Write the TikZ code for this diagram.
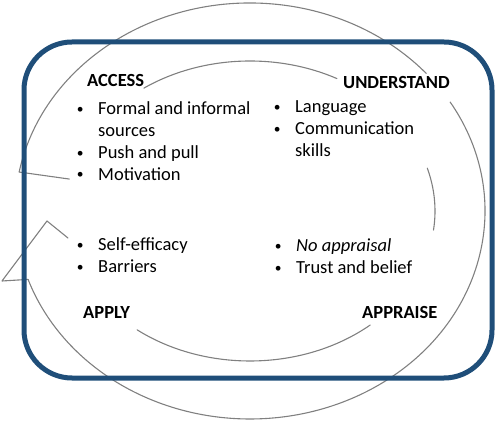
\documentclass[tikz,border=0pt]{standalone}
\usepackage{fontspec}
\setmainfont{Carlito}
\definecolor{boxblue}{HTML}{1F4E79}
\definecolor{arcgray}{HTML}{808080}
\newcommand{\bul}{\makebox[36pt]{\raisebox{1.3pt}{\fontsize{13.5}{13.5}\selectfont\textbullet}}}
\begin{document}
\begin{tikzpicture}[x=1pt, y=1pt, line join=round, line cap=round]
	\tikzset{arc/.style={arcgray, line width=1.1pt},
		outer/.style={x radius=235pt, y radius=208pt},
		inner/.style={x radius=185pt, y radius=150pt},
		head/.style={font=\fontsize{18.5}{21.7}\selectfont\bfseries, anchor=base west, inner sep=0pt},
		list/.style={font=\fontsize{18.5}{21.7}\selectfont, anchor=base west, inner sep=0pt}}
	\useasboundingbox (0,0) rectangle (500,423);
	\path (250,212) coordinate (C)
	([shift={(169.2:235pt and 208pt)}]C) coordinate (tailO)
	([shift={(167.7:185pt and 150pt)}]C) coordinate (tailI)
	([shift={(190.4:185pt and 150pt)}]C) coordinate (headI)
	([shift={(199.2:235pt and 208pt)}]C) coordinate (headO)
	(47,202) coordinate (tip)
	(2,142) coordinate (barb)
	;
	% outer and inner edges of the circular arrow
	\foreach \s/\e in {169.2/41.4, 31.6/-160.8}{\draw[arc] ([shift={(\s:235pt and 208pt)}]C) arc[start angle=\s, end angle=\e, outer];}
	\foreach \s/\e in {125/62, 16.6/-7.3, -49.5/-127.6}{\draw[arc] ([shift={(\s:185pt and 150pt)}]C) arc[start angle=\s, end angle=\e, inner];}
	\draw[arc] (tailO) -- (tailI);
	\draw[arc] (headI) -- (tip) -- (barb) -- (headO);
	\draw[boxblue, line width=5pt, rounded corners=48pt] (24,45) rectangle (492,381);
	\node[head] (access) at (87,336) {ACCESS};
	\node[head] (understand) at (343,334) {UNDERSTAND};
	\node[head] (apply) at (83,105) {APPLY};
	\node[head] (appraise) at (362,105) {APPRAISE};
	\node[list] (accessl) at (62,308) {\begin{tabular}[t]{@{}l@{}l@{}}\bul&Formal and informal\\ &sources\\ \bul&Push and pull\\ \bul&Motivation\end{tabular}};
	\node[list] (understandl) at (259,310) {\begin{tabular}[t]{@{}l@{}l@{}}\bul&Language\\ \bul&Communication\\ &skills\end{tabular}};
	\node[list] (applyl) at (62,172) {\begin{tabular}[t]{@{}l@{}l@{}}\bul&Self-efficacy\\ \bul&Barriers\end{tabular}};
	\node[list] (appraisel) at (260,171) {\begin{tabular}[t]{@{}l@{}l@{}}\bul&\textit{No appraisal}\\ \bul&Trust and belief\end{tabular}};
\end{tikzpicture}
\end{document}
